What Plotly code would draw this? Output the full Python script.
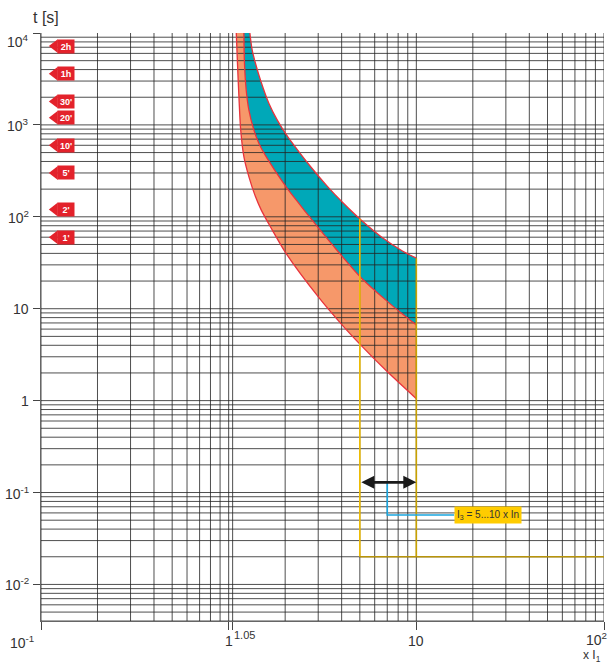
import numpy as np
import plotly.graph_objects as go

# ---------------- data ----------------
# Upper limit of the tripping band (x = multiples of I1, t in seconds)
upper_x = [1.297, 1.334, 1.389, 1.477, 1.637, 1.813, 2.032, 2.326, 2.728, 3.348, 4.04,
           5.06, 6.60, 8.43, 10.0]
upper_t = [10000, 6535, 4688, 3084, 1721, 1133, 779, 535, 353, 216, 144,
           92.9, 59.2, 42.5, 35.5]
# Boundary between the two bands
middle_x = [1.205, 1.214, 1.240, 1.281, 1.362, 1.448, 1.604, 2.032, 2.366, 2.685, 3.573,
            5.06, 6.88, 8.43, 10.0]
middle_t = [10000, 4688, 2400, 1456, 883, 633, 432, 209, 140, 101, 49.5,
            21.9, 12.4, 8.77, 6.67]
# Lower limit of the tripping band
lower_x = [1.098, 1.114, 1.134, 1.159, 1.205, 1.281, 1.389, 1.490, 1.705, 2.017, 3.035,
           4.04, 5.06, 6.88, 10.0]
lower_t = [10000, 4688, 2031, 883, 452, 274, 166, 119, 72.2, 40.3, 13.1,
           6.59, 4.02, 2.14, 1.05]

# Instantaneous (magnetic) trip I3 = 5..10 x In
i3_range = [5, 10]
t_inst = 0.02
arrow_t = 0.129
pointer_x = 7
label_x = 15.9
label_t = 0.057
label_text = "I<sub>3</sub> = 5...10 x In"

# Time marks on the left
mark_labels = ["2h", "1h", "30'", "20'", "10'", "5'", "2'", "1'"]
mark_t = [7200, 3600, 1800, 1200, 600, 300, 120, 60]
mark_x = 0.1185

# Axes
x_min, x_max = 0.1, 100
t_min, t_max = 0.004, 10000
x_tickvals = [0.1, 1, 1.05, 10, 100]
x_labels = ["10<sup>-1</sup>", "1", "1.05", "10", "10<sup>2</sup>"]
y_tickvals = [0.01, 0.1, 1, 10, 100, 1000, 10000]
y_labels = ["10<sup>-2</sup>", "10<sup>-1</sup>", "1", "10", "10<sup>2</sup>",
            "10<sup>3</sup>", "10<sup>4</sup>"]

# grid values (log grid 1..9 per decade)
x_grid = sorted(set([k * 10.0 ** n for n in range(-1, 2) for k in range(1, 10)] + [100, 1.05]))
y_grid = [k * 10.0 ** n for n in range(-3, 4) for k in range(1, 10)]
y_grid = [v for v in y_grid if t_min - 1e-12 <= v <= t_max + 1e-9]

TEAL = "#00a8b8"
SALMON = "#f6986a"
RED = "#e8333c"
GRID = "rgba(35,35,35,0.80)"
FONT = "Liberation Sans, Arial, sans-serif"
SMOOTH = 0.8

fig = go.Figure()

# bands (filled between consecutive traces)
fig.add_trace(go.Scatter(x=lower_x, y=lower_t, mode="lines",
                         line=dict(width=0, shape="spline", smoothing=SMOOTH),
                         hoverinfo="skip", showlegend=False))
fig.add_trace(go.Scatter(x=middle_x, y=middle_t, mode="lines", fill="tonexty", fillcolor=SALMON,
                         line=dict(width=0, shape="spline", smoothing=SMOOTH),
                         hoverinfo="skip", showlegend=False))
fig.add_trace(go.Scatter(x=upper_x, y=upper_t, mode="lines", fill="tonexty", fillcolor=TEAL,
                         line=dict(width=0, shape="spline", smoothing=SMOOTH),
                         hoverinfo="skip", showlegend=False))

# grid drawn above the bands
gx, gy = [], []
for v in x_grid:
    gx += [v, v, None]
    gy += [t_min, t_max, None]
fig.add_trace(go.Scatter(x=gx, y=gy, mode="lines", line=dict(color=GRID, width=1),
                         hoverinfo="skip", showlegend=False))
gx, gy = [], []
for v in y_grid:
    gx += [x_min, x_max, None]
    gy += [v, v, None]
fig.add_trace(go.Scatter(x=gx, y=gy, mode="lines", line=dict(color=GRID, width=1),
                         hoverinfo="skip", showlegend=False))

# red curves
for xs, ts in [(upper_x, upper_t), (middle_x, middle_t), (lower_x, lower_t)]:
    fig.add_trace(go.Scatter(x=xs, y=ts, mode="lines",
                             line=dict(color=RED, width=1.3, shape="spline", smoothing=SMOOTH),
                             hoverinfo="skip", showlegend=False))

# yellow instantaneous trip lines
def upper_at(x):
    return 10 ** np.interp(np.log10(x), np.log10(upper_x), np.log10(upper_t))

fig.add_trace(go.Scatter(x=[i3_range[0], i3_range[0]], y=[upper_at(i3_range[0]), t_inst],
                         mode="lines", line=dict(color="#f2bf00", width=1.6),
                         hoverinfo="skip", showlegend=False))
fig.add_trace(go.Scatter(x=[i3_range[1], i3_range[1]], y=[upper_at(i3_range[1]), t_inst],
                         mode="lines", line=dict(color="#c9a200", width=1.6),
                         hoverinfo="skip", showlegend=False))
fig.add_trace(go.Scatter(x=[i3_range[0], x_max], y=[t_inst, t_inst],
                         mode="lines", line=dict(color="#b8940a", width=1.6),
                         hoverinfo="skip", showlegend=False))

# blue pointer line
fig.add_trace(go.Scatter(x=[pointer_x, pointer_x, label_x], y=[arrow_t, label_t, label_t],
                         mode="lines", line=dict(color="#1aa7e0", width=1.6),
                         hoverinfo="skip", showlegend=False))

# red time-mark tips
fig.add_trace(go.Scatter(x=[mark_x] * len(mark_t), y=mark_t, mode="markers",
                         marker=dict(symbol="triangle-left", size=12, color="#e3222b",
                                     line=dict(width=0)),
                         hoverinfo="skip", showlegend=False))

annotations = []
for lab, t in zip(mark_labels, mark_t):
    annotations.append(dict(x=np.log10(mark_x), y=np.log10(t), xref="x", yref="y",
                            text="<b>%s</b>" % lab, showarrow=False, xanchor="left",
                            xshift=2, bgcolor="#e3222b", width=14, height=11, borderpad=1,
                            font=dict(family=FONT, size=9, color="white")))

# double arrow between 5 and 10
annotations.append(dict(x=np.log10(i3_range[1]), y=np.log10(arrow_t), xref="x", yref="y",
                        ax=np.log10(i3_range[0]), ay=np.log10(arrow_t), axref="x", ayref="y",
                        text="", showarrow=True, arrowhead=2, arrowside="end+start",
                        arrowsize=1.0, arrowwidth=2.6, arrowcolor="#1a1a1a",
                        standoff=0, startstandoff=0))
# label box
annotations.append(dict(x=np.log10(label_x), y=np.log10(label_t), xref="x", yref="y",
                        text=label_text, showarrow=False, xanchor="left", yanchor="middle",
                        bgcolor="#ffcc00", borderpad=2,
                        font=dict(family="Liberation Sans Narrow, Liberation Sans, Arial", size=10,
                                  color="#333333")))
# x tick labels
x_label_shift = [-19, 0, 12, 0, -8]
x_label_yshift = [-10, -10, -6, -10, -7]
x_label_size = [14, 14, 11, 14, 14]
for v, lab, xs, ys, sz in zip(x_tickvals, x_labels, x_label_shift, x_label_yshift, x_label_size):
    annotations.append(dict(x=np.log10(v), y=0, xref="x", yref="paper", text=lab,
                            showarrow=False, xanchor="center", yanchor="top",
                            xshift=xs, yshift=ys,
                            font=dict(family=FONT, size=sz, color="#333333")))
# y tick labels (top one sits just below its tick, as in the original)
for v, lab in zip(y_tickvals, y_labels):
    annotations.append(dict(x=0, y=np.log10(v), xref="paper", yref="y", text=lab,
                            showarrow=False, xanchor="right", yanchor="middle",
                            xshift=-10, yshift=-8 if v == t_max else 0,
                            font=dict(family=FONT, size=14, color="#333333")))
# axis titles
annotations.append(dict(x=0.008, y=1.0, xref="paper", yref="paper", text="t [s]",
                        showarrow=False, xanchor="center", yanchor="bottom", yshift=5,
                        font=dict(family=FONT, size=16, color="#333333")))
annotations.append(dict(x=1.0, y=0, xref="paper", yref="paper", text="x I<sub>1</sub>",
                        showarrow=False, xanchor="right", yanchor="top", yshift=-25, xshift=-1,
                        font=dict(family=FONT, size=12, color="#333333")))

fig.update_layout(
    width=608, height=663,
    margin=dict(l=41, r=4, t=33, b=42),
    paper_bgcolor="white", plot_bgcolor="white",
    showlegend=False,
    annotations=annotations,
    font=dict(family=FONT, size=14, color="#333333"),
    xaxis=dict(type="log", range=[np.log10(x_min), np.log10(x_max)],
               tickmode="array", tickvals=x_tickvals, ticktext=[""] * len(x_tickvals),
               ticks="outside", ticklen=8, tickcolor="#444", tickwidth=1,
               showgrid=False, zeroline=False, showline=True, linecolor="#666"),
    yaxis=dict(type="log", range=[np.log10(t_min), np.log10(t_max)],
               tickmode="array", tickvals=y_tickvals, ticktext=[""] * len(y_tickvals),
               ticks="outside", ticklen=7, tickcolor="#444", tickwidth=1,
               showgrid=False, zeroline=False, showline=True, linecolor="#666"),
)

fig.write_html("out.html", config={"displayModeBar": False},
               post_script="document.body.style.margin='0';")
